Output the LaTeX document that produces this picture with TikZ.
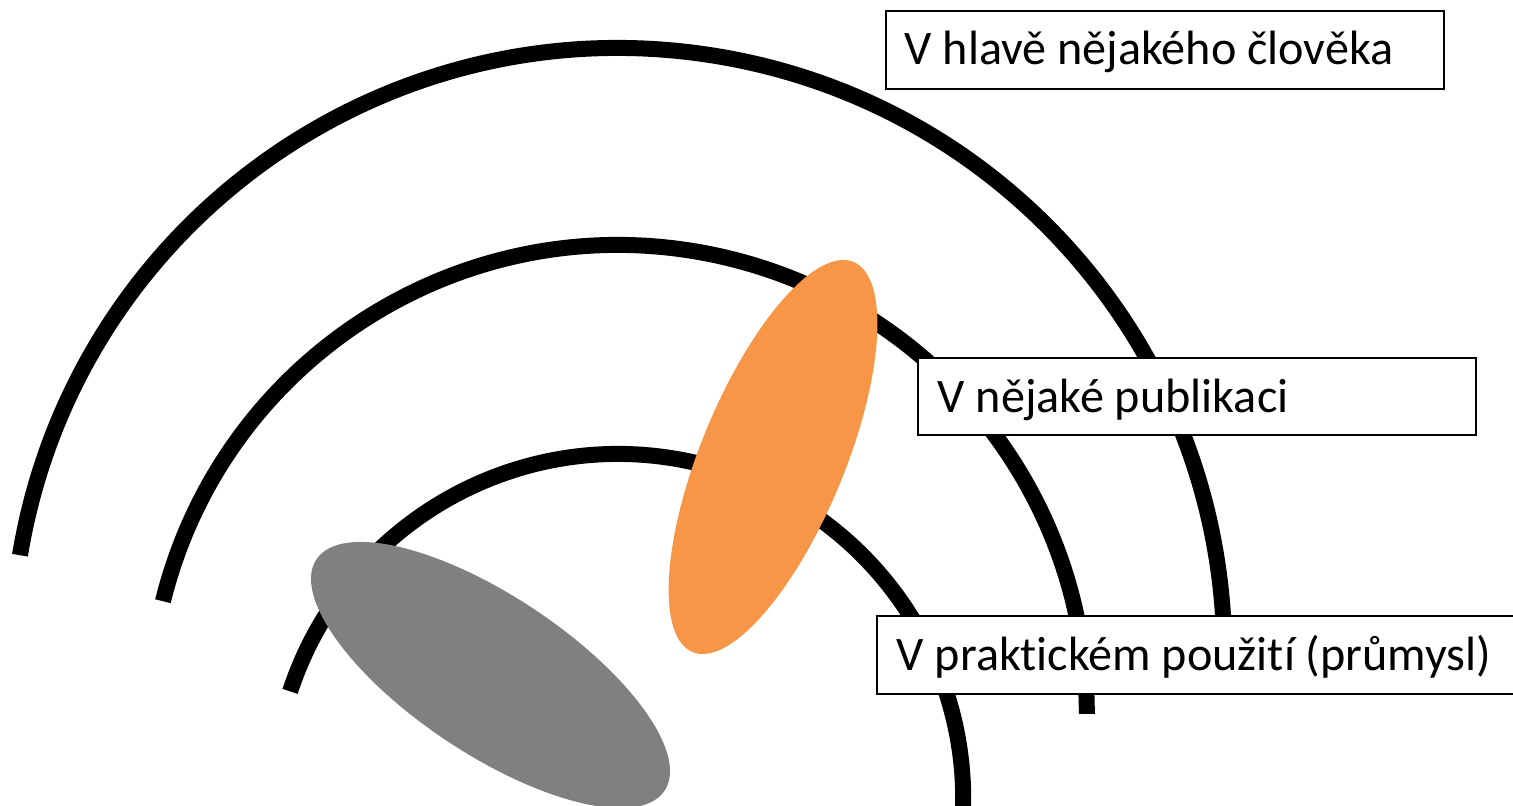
\documentclass[tikz,border=0pt]{standalone}
\usepackage{fontspec}
\setmainfont{Carlito}[Ligatures=NoCommon]
\definecolor{orangefill}{HTML}{F79646}
\definecolor{grayfill}{HTML}{808080}
\begin{document}
\begin{tikzpicture}[
  arcline/.style={line width=0.16cm, line cap=butt, draw=black},
  boxframe/.style={draw=black, line width=0.5pt, fill=white, inner sep=0pt, anchor=north west},
  boxtext/.style={inner sep=0pt, anchor=base west, font=\fontsize{13.7pt}{16pt}\selectfont}
]
\useasboundingbox (0,0) rectangle (15.13,8.05);
\clip (0,0) rectangle (15.13,8.05);
% arcs
\draw[arcline] (6.18,1.508) ++(170.6:6.062) arc[start angle=170.6, end angle=-1, radius=6.062];
\draw[arcline] (6.18,0.912) ++(166.1:4.688) arc[start angle=166.1, end angle=0, radius=4.688];
\draw[arcline] (6.18,0.058) ++(161.8:3.452) arc[start angle=161.8, end angle=-4, radius=3.452];
% ellipses
\fill[orangefill, rotate around={67.6:(7.73,3.48)}] (7.73,3.48) ellipse [x radius=2.11, y radius=0.72];
\fill[grayfill, rotate around={-33.6:(4.905,1.30)}] (4.905,1.30) ellipse [x radius=2.09, y radius=0.79];
% boxes
\node[boxframe, minimum width=5.58cm, minimum height=0.78cm] (b1) at (8.85,7.95) {};
\node[boxtext] (t1) at (9.04,7.40) {V hlavě nějakého člověka};
\node[boxframe, minimum width=5.58cm, minimum height=0.77cm] (b2) at (9.17,4.48) {};
\node[boxtext] (t2) at (9.37,3.93) {V nějaké publikaci};
\node[boxframe, minimum width=6.40cm, minimum height=0.78cm] (b3) at (8.76,1.90) {};
\node[boxtext] (t3) at (8.96,1.35) {V praktickém použití (průmysl)};
\end{tikzpicture}
\end{document}
